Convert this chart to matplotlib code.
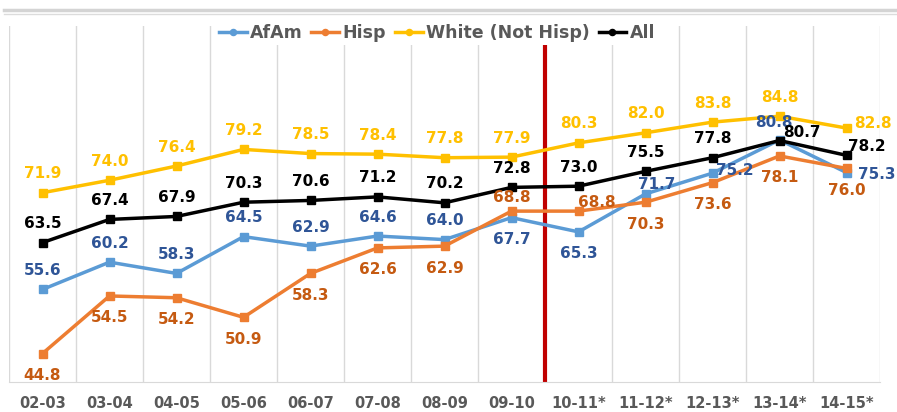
import numpy as np
import matplotlib
matplotlib.use("Agg")
import matplotlib.pyplot as plt
from matplotlib.lines import Line2D

years = ["02-03", "03-04", "04-05", "05-06", "06-07", "07-08", "08-09",
         "09-10", "10-11*", "11-12*", "12-13*", "13-14*", "14-15*"]
afam = [55.6, 60.2, 58.3, 64.5, 62.9, 64.6, 64.0, 67.7, 65.3, 71.7, 75.2, 80.8, 75.3]
hisp = [44.8, 54.5, 54.2, 50.9, 58.3, 62.6, 62.9, 68.8, 68.8, 70.3, 73.6, 78.1, 76.0]
white = [71.9, 74.0, 76.4, 79.2, 78.5, 78.4, 77.8, 77.9, 80.3, 82.0, 83.8, 84.8, 82.8]
allst = [63.5, 67.4, 67.9, 70.3, 70.6, 71.2, 70.2, 72.8, 73.0, 75.5, 77.8, 80.7, 78.2]

plt.rcParams['font.family'] = ['DejaVu Sans']

fig = plt.figure(figsize=(8.97, 4.12), dpi=100)
ax = fig.add_axes([9 / 897, 30 / 412, 871 / 897, 356 / 412])
x = np.arange(len(years))

# (name, data, line colour, label colour, label offsets in px (dx, dy up))
up = (0, 19)
dn = (0, -22)
series = [
    ("AfAm", afam, "#5B9BD5", "#2F5597",
     [up] * 7 + [dn, dn, (11, 9), (22, 3), (-6, 17), (30, -2)]),
    ("Hisp", hisp, "#ED7D31", "#C55A11",
     [dn] * 7 + [(0, 14), (18, 9), dn, dn, dn, dn]),
    ("White (Not Hisp)", white, "#FFC000", "#FFC000",
     [up] * 12 + [(26, 5)]),
    ("All", allst, "#000000", "#000000",
     [up] * 11 + [(22, 8), (20, 9)]),
]

for name, vals, col, lcol, offs in series:
    ax.plot(x, vals, color=col, lw=2.5, marker="s", ms=5.5, label=name, zorder=3)
    for i, v in enumerate(vals):
        ax.annotate("%.1f" % v, (x[i], v), xytext=offs[i], textcoords="offset pixels",
                    ha="center", va="center", fontsize=11, fontweight="bold",
                    color=lcol, zorder=4)

ax.set_xlim(-0.5, len(years) - 0.5)
ax.set_ylim(40, 100)
ax.set_yticks([])
ax.set_xticks(x)
ax.set_xticklabels(years, fontsize=10.5, fontweight="bold", color="#595959")
ax.tick_params(axis="x", length=0, pad=10)
ax.set_xticks(np.arange(-0.5, len(years), 1), minor=True)
ax.tick_params(axis="x", which="minor", length=0)
ax.grid(True, axis="x", which="minor", color="#D9D9D9", lw=1)
for s in ["top", "right", "left"]:
    ax.spines[s].set_visible(False)
ax.spines["bottom"].set_color("#D9D9D9")

# red divider between 09-10 and 10-11
ax.axvline(7.5, ymin=(382 - 380) / 356, ymax=(382 - 47) / 356, color="#C00000", lw=3, zorder=2)

leg = ax.legend(loc="center", bbox_to_anchor=(437 / 897, (412 - 33) / 412),
                bbox_transform=fig.transFigure, ncol=4, frameon=True,
                facecolor="white", edgecolor="none", framealpha=1,
                prop={"size": 12.5, "weight": "bold"}, labelcolor="#595959",
                handlelength=1.6, handletextpad=0.2, columnspacing=0.5, borderpad=0.15,
                markerscale=0.8)
for h in leg.legend_handles:
    h.set_marker("o")

# window border at top
fig.add_artist(Line2D([4 / 897, 1], [402 / 412, 402 / 412], color="#D4D4D4", lw=2.5))
fig.add_artist(Line2D([4 / 897, 1], [398.5 / 412, 398.5 / 412], color="#DCDCDC", lw=1))

fig.savefig("out.png", dpi=100)
